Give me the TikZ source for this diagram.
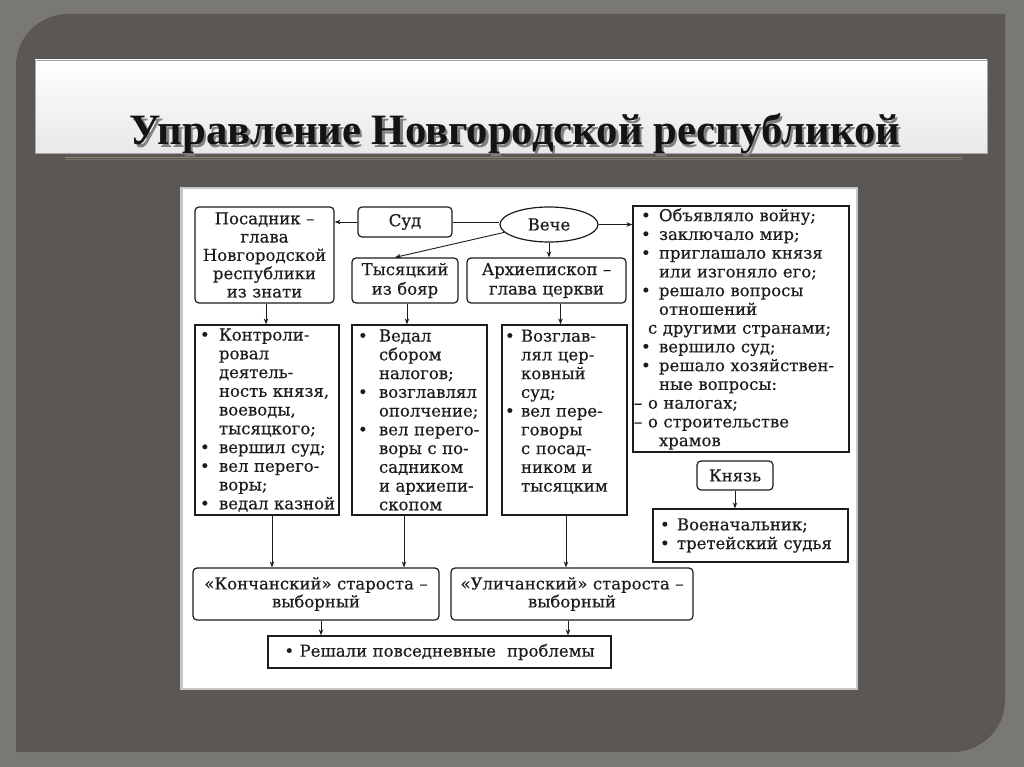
\documentclass[tikz,border=0pt]{standalone}
\usepackage{fontspec}
\setmainfont{DejaVu Serif}[FakeBold=0.35]
\newfontfamily\titlefont{Liberation Serif}
\usetikzlibrary{shapes.geometric,arrows.meta,calc}
\definecolor{outerbg}{HTML}{7A7875}
\definecolor{panel}{HTML}{5A5755}
\definecolor{ink}{HTML}{1C1C1C}
\definecolor{rulec}{HTML}{8F8463}
\newlength\tpos \newlength\bpos
\newcommand\ind[2]{\setlength\bpos{#1}\setlength\tpos{#2}}
\newcommand\B{\makebox[\tpos][l]{\hspace*{\bpos}•}}
\newcommand\I{\hspace*{\tpos}}
\newcommand\dfont{\fontsize{16.5}{18.75}\selectfont}
\newcommand\titletext{\resizebox{770pt}{31pt}{\titlefont\bfseries Управление Новгородской республикой}}
\tikzset{
  box/.style={draw=ink, line width=1.2pt, inner xsep=1pt, inner ysep=0pt, font=\dfont, text=ink, align=left},
  rbox/.style={box, rounded corners=4pt, align=center},
  arr/.style={draw=ink, line width=0.9pt, -{Stealth[length=6pt,width=4.5pt]}},
  plain/.style={draw=ink, line width=0.9pt}
}
\begin{document}
\begin{tikzpicture}[x=1pt,y=-1pt]
\useasboundingbox (0,0) rectangle (1024,767);
\fill[outerbg] (0,0) rectangle (1024,767);
\fill[panel] (16,752) [sharp corners] -- (16,300) [rounded corners=52pt] -- (16,14) -- (300,14) [sharp corners] -- (1005,14) -- (1005,400) [rounded corners=52pt] -- (1005,752) -- (600,752) [sharp corners] -- cycle;
% title band
\shade[top color=white, bottom color=black!9] (35,60) rectangle (987,153);
\draw[black!35, line width=0.8pt] (35,60) rectangle (987,153);
\node[anchor=base, text=black!92] (title) at (515,145)
  {\makebox[0pt][l]{\raisebox{-2.5pt}[0pt][0pt]{\hspace*{2.5pt}\color{black!50}\titletext}}\titletext};
\draw[rulec, line width=1.3pt] (65,157.5) -- (962,157.5);
\draw[black!55, line width=0.5pt] (65,159.2) -- (962,159.2);
% diagram backing
\fill[white] (180,187) rectangle (858,690);
\draw[black!22, line width=2.5pt] (181.25,188.25) rectangle (856.75,688.75);

% nodes
\node[rbox, minimum width=139, minimum height=96, text width=137, font=\fontsize{16.5}{18.3}\selectfont] (pos) at (264.5,255)
  {Посадник –\\глава\\Новгородской\\республики\\из знати};
\node[rbox, minimum width=94, minimum height=30, text width=92] (sud) at (405,222) {Суд};
\node[ellipse, draw=ink, line width=1.2pt, inner sep=0pt, minimum width=98, minimum height=35, font=\dfont, text=ink] (veche) at (549,224.5) {Вече};
\node[rbox, minimum width=106, minimum height=45, text width=104, font=\fontsize{16.5}{19.5}\selectfont] (tys) at (405,280.5) {Тысяцкий\\из бояр};
\node[rbox, minimum width=159, minimum height=45, text width=157, font=\fontsize{16.5}{19.5}\selectfont] (arch) at (546.5,280.5) {Архиепископ –\\глава церкви};

\node[box, minimum width=216, minimum height=246, text width=214] (rlist) at (741,329)
  {\ind{7pt}{25pt}\B Объявляло войну;\\
   \B заключало мир;\\
   \B приглашало князя\\
   \I или изгоняло его;\\
   \B решало вопросы\\
   \I отношений\\
   \hspace*{14pt}с другими странами;\\
   \B вершило суд;\\
   \B решало хозяйствен-\\
   \I ные вопросы:\\
   \makebox[14pt][l]{–}о налогах;\\
   \makebox[14pt][l]{–}о строительстве\\
   \I храмов};

\node[box, minimum width=144, minimum height=190, text width=142] (b1) at (267,420)
  {\ind{4pt}{23pt}\B Контроли-\\
   \I ровал\\
   \I деятель-\\
   \I ность князя,\\
   \I воеводы,\\
   \I тысяцкого;\\
   \B вершил суд;\\
   \B вел перего-\\
   \I воры;\\
   \B ведал казной};
\node[box, minimum width=135, minimum height=190, text width=133] (b2) at (419.5,420)
  {\ind{5pt}{26pt}\B Ведал\\
   \I сбором\\
   \I налогов;\\
   \B возглавлял\\
   \I ополчение;\\
   \B вел перего-\\
   \I воры с по-\\
   \I садником\\
   \I и архиепи-\\
   \I скопом};
\node[box, minimum width=125, minimum height=190, text width=123] (b3) at (564.5,420)
  {\ind{2pt}{18pt}\B Возглав-\\
   \I лял цер-\\
   \I ковный\\
   \I суд;\\
   \B вел пере-\\
   \I говоры\\
   \I с посад-\\
   \I ником и\\
   \I тысяцким\\
   \mbox{}};

\node[rbox, minimum width=76, minimum height=29, text width=74] (knyaz) at (735,475.5) {Князь};
\node[box, minimum width=195, minimum height=53, text width=193] (klist) at (750.5,535.5)
  {\ind{6pt}{23pt}\B Военачальник;\\
   \B третейский судья};

\node[rbox, minimum width=246, minimum height=52, text width=244, font=\fontsize{16.5}{18}\selectfont] (konch) at (316,594) {«Кончанский» староста –\\выборный};
\node[rbox, minimum width=242, minimum height=52, text width=240, font=\fontsize{16.5}{18}\selectfont] (ulich) at (572,594) {«Уличанский» староста –\\выборный};
\node[box, minimum width=343, minimum height=32, text width=341, align=center] (resh) at (439.5,652) {• Решали повседневные\ \ проблемы};

% connectors
\draw[arr] (sud.west) -- (sud.west -| pos.east);
\draw[plain] (sud.east) -- (sud.east -| veche.west);
\draw[arr] (veche.east) -- (veche.east -| rlist.west);
\draw[arr] (veche.south) -- (veche.south |- arch.north);
\draw[arr] (veche.190) -- ([xshift=-10pt]tys.north);
\draw[arr] ([xshift=1.5pt]pos.south) -- ([xshift=1.5pt]pos.south |- b1.north);
\draw[arr] ([xshift=2pt]tys.south) -- ([xshift=2pt]tys.south |- b2.north);
\draw[arr] ([xshift=14pt]arch.south) -- ([xshift=14pt]arch.south |- b3.north);
\draw[arr] ([xshift=5pt]b1.south) -- ([xshift=5pt]b1.south |- konch.north);
\draw[arr] ([xshift=-15.5pt]b2.south) -- ([xshift=-15.5pt]b2.south |- konch.north);
\draw[arr] ([xshift=1.5pt]b3.south) -- ([xshift=1.5pt]b3.south |- ulich.north);
\draw[arr] (knyaz.south) -- (knyaz.south |- klist.north);
\draw[arr] ([xshift=5pt]konch.south) -- ([xshift=5pt]konch.south |- resh.north);
\draw[arr] ([xshift=-4pt]ulich.south) -- ([xshift=-4pt]ulich.south |- resh.north);
\end{tikzpicture}
\end{document}
